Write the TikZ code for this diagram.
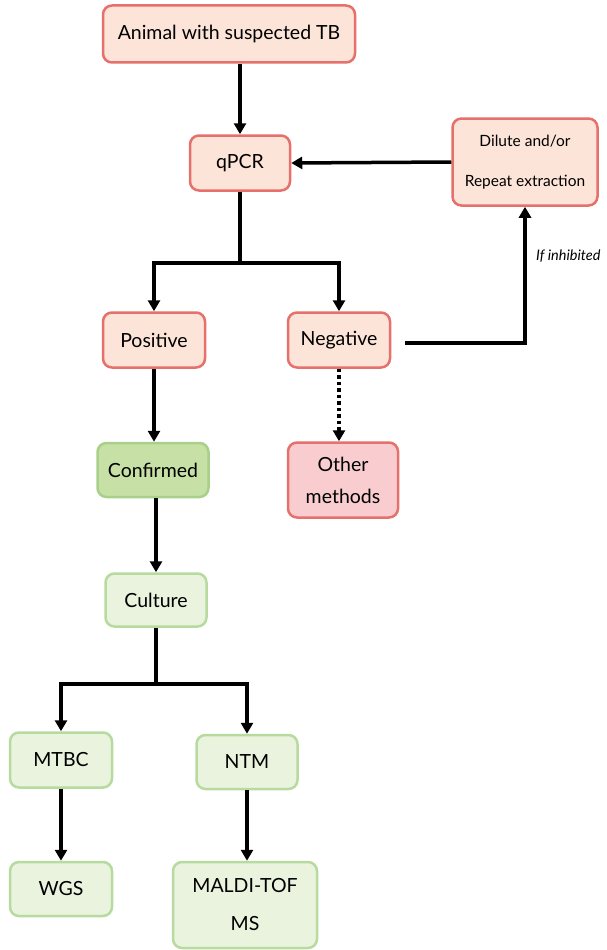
\documentclass[tikz,border=0pt]{standalone}
\usepackage{fontspec}
\setmainfont{Lato}
\usetikzlibrary{arrows.meta,calc}
\definecolor{redfill}{HTML}{FCE4D8}
\definecolor{redline}{HTML}{E5706C}
\definecolor{pinkfill}{HTML}{F9CDD0}
\definecolor{gfill}{HTML}{C6E0A6}
\definecolor{gline}{HTML}{A8D08A}
\definecolor{lgfill}{HTML}{EAF3DE}
\definecolor{lgline}{HTML}{B7DA9E}
\begin{document}
\begin{tikzpicture}[x=1pt,y=-1pt,
  box/.style={rounded corners=9pt,line width=2.5pt,inner sep=0pt,align=center,
    font=\fontsize{19.5}{22}\selectfont},
  redbox/.style={box,draw=redline,fill=redfill},
  pinkbox/.style={box,draw=redline,fill=pinkfill},
  greenbox/.style={box,draw=gline,fill=gfill},
  lgbox/.style={box,draw=lgline,fill=lgfill},
  arr/.style={line width=3.5pt,-{Triangle[length=11pt,width=12pt]}},
  ln/.style={line width=3.5pt}]
\useasboundingbox (0,0) rectangle (607,950);
\node[redbox,minimum width=252pt,minimum height=57pt] (animal) at (229,34) {Animal with suspected TB};
\node[redbox,minimum width=100pt,minimum height=55pt] (qpcr) at (240,163) {qPCR};
\node[redbox,minimum width=145pt,minimum height=87pt,font=\fontsize{15.5}{40}\selectfont] (dilute) at (525,162) {Dilute and/or\\Repeat extraction};
\node[redbox,minimum width=102pt,minimum height=55pt] (pos) at (154,340) {Positive};
\node[redbox,minimum width=102pt,minimum height=55pt] (neg) at (339,340) {Negative};
\node[pinkbox,minimum width=110pt,minimum height=75pt,font=\fontsize{19.5}{32}\selectfont] (other) at (343,480) {Other\\methods};
\node[greenbox,minimum width=111pt,minimum height=54pt] (conf) at (153,470) {Confirmed};
\node[lgbox,minimum width=101pt,minimum height=53pt] (cult) at (156,600) {Culture};
\node[lgbox,minimum width=102pt,minimum height=55pt] (mtbc) at (61,760) {MTBC};
\node[lgbox,minimum width=101pt,minimum height=54pt] (ntm) at (247,762) {NTM};
\node[lgbox,minimum width=102pt,minimum height=54pt] (wgs) at (61,889) {WGS};
\node[lgbox,minimum width=144pt,minimum height=86pt,font=\fontsize{19.5}{38}\selectfont] (maldi) at (245,905) {MALDI-TOF\\MS};
\coordinate (split1) at (240,263);
\coordinate (split2) at (156,684);
\coordinate (negout) at (405,343);
\draw[arr] (qpcr.north |- animal.south) -- (qpcr.north);
\draw[arr] (dilute.west) -- (qpcr.east);
\draw[ln] (qpcr.south) -- (split1);
\draw[arr] (split1) -| (pos.north);
\draw[arr] (split1) -| (neg.north);
\draw[arr] (negout) -| node[pos=0.82,right=6pt,font=\itshape\fontsize{14.5}{16}\selectfont]{If inhibited} (dilute.south);
\draw[arr,dash pattern=on 3.5pt off 3pt] (neg.south) -- (neg.south |- other.north);
\draw[arr] (pos.south) -- (pos.south |- conf.north);
\draw[arr] (conf.south -| cult.north) -- (cult.north);
\draw[ln] (cult.south) -- (split2);
\draw[arr] (split2) -| (mtbc.north);
\draw[arr] (split2) -| (ntm.north);
\draw[arr] (mtbc.south) -- (wgs.north);
\draw[arr] (ntm.south) -- (ntm.south |- maldi.north);
\end{tikzpicture}
\end{document}
